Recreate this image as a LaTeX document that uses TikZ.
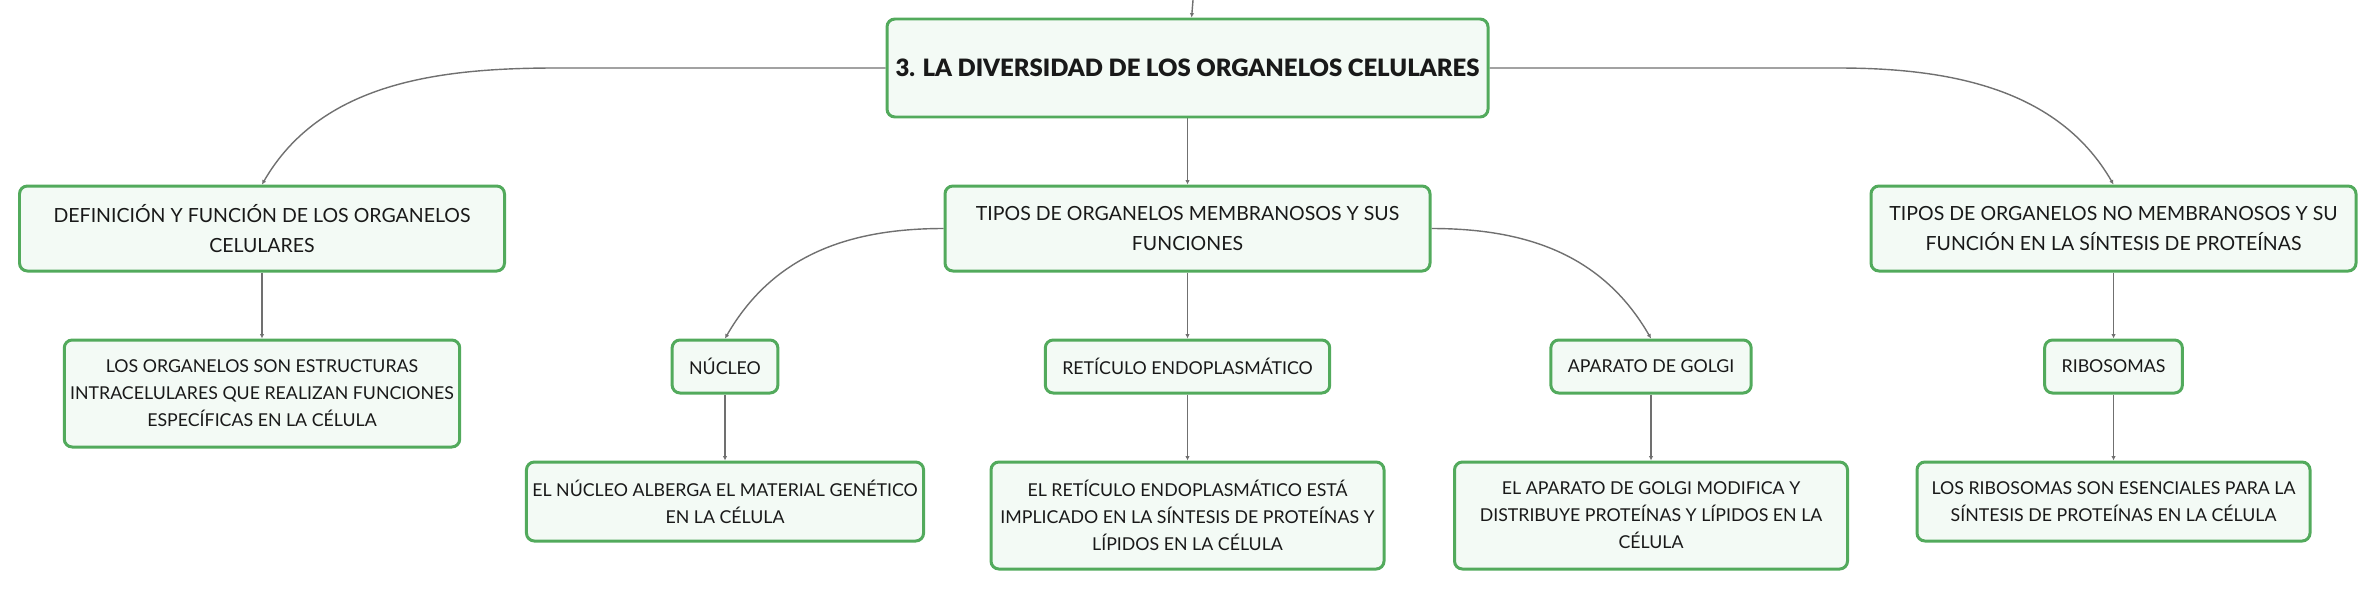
\documentclass[tikz,border=0pt]{standalone}
\usepackage{fontspec}
\setmainfont{Lato}
\newfontfamily\heavyfont{Lato Black}
\usetikzlibrary{arrows.meta}
\pgfdeclarelayer{edgelayer}
\pgfdeclarelayer{nodelayer}
\pgfsetlayers{edgelayer,nodelayer,main}
\definecolor{boxline}{RGB}{82,170,92}
\definecolor{boxfill}{RGB}{243,250,245}
\definecolor{linkgrey}{RGB}{112,112,112}
\definecolor{ink}{RGB}{25,25,25}
\tikzstyle{none}=[inner sep=0pt]
\tikzstyle{card}=[rectangle, rounded corners=4.5pt, draw=boxline, line width=1.7pt, fill=boxfill, text=ink, align=center]
\tikzstyle{root}=[card, font=\fontsize{13.6}{16.8}\selectfont\heavyfont, minimum width=12.02cm, minimum height=1.96cm]
\tikzstyle{topic}=[card, font=\fontsize{11.1}{16.8}\selectfont, minimum width=9.7cm, minimum height=1.7cm]
\tikzstyle{sub}=[card, font=\fontsize{10.1}{15.4}\selectfont, minimum height=1.06cm, inner xsep=0.34cm]
\tikzstyle{note}=[card, font=\fontsize{10.1}{15.4}\selectfont, minimum width=7.86cm, minimum height=1.58cm]
\tikzstyle{longnote}=[note, minimum height=2.14cm]
\tikzstyle{link}=[draw=linkgrey, line width=0.8pt, -{Latex[length=2.5pt,width=2.5pt]}]

\begin{document}
\begin{tikzpicture}
	\useasboundingbox (0,0) rectangle (47.52,-11.8);
	\begin{pgfonlayer}{nodelayer}
		\node [style=root] (0) at (23.75, -1.36) {3. LA DIVERSIDAD DE LOS ORGANELOS CELULARES};
		\node [style=topic] (1) at (5.24, -4.57) {DEFINICIÓN Y FUNCIÓN DE LOS ORGANELOS\\CELULARES};
		\node [style=topic] (2) at (23.75, -4.57) {TIPOS DE ORGANELOS MEMBRANOSOS Y SUS\\FUNCIONES};
		\node [style=topic] (3) at (42.27, -4.57) {TIPOS DE ORGANELOS NO MEMBRANOSOS Y SU\\FUNCIÓN EN LA SÍNTESIS DE PROTEÍNAS};
		\node [style=longnote] (4) at (5.24, -7.87) {LOS ORGANELOS SON ESTRUCTURAS\\INTRACELULARES QUE REALIZAN FUNCIONES\\ESPECÍFICAS EN LA CÉLULA};
		\node [style=sub] (5) at (14.5, -7.33) {NÚCLEO};
		\node [style=sub] (6) at (23.75, -7.33) {RETÍCULO ENDOPLASMÁTICO};
		\node [style=sub] (7) at (33.02, -7.33) {APARATO DE GOLGI};
		\node [style=sub] (8) at (42.27, -7.33) {RIBOSOMAS};
		\node [style=note] (9) at (14.5, -10.03) {EL NÚCLEO ALBERGA EL MATERIAL GENÉTICO\\EN LA CÉLULA};
		\node [style=longnote] (10) at (23.75, -10.31) {EL RETÍCULO ENDOPLASMÁTICO ESTÁ\\IMPLICADO EN LA SÍNTESIS DE PROTEÍNAS Y\\LÍPIDOS EN LA CÉLULA};
		\node [style=longnote] (11) at (33.02, -10.31) {EL APARATO DE GOLGI MODIFICA Y\\DISTRIBUYE PROTEÍNAS Y LÍPIDOS EN LA\\CÉLULA};
		\node [style=note] (12) at (42.27, -10.03) {LOS RIBOSOMAS SON ESENCIALES PARA LA\\SÍNTESIS DE PROTEÍNAS EN LA CÉLULA};
		\node [style=none] (13) at (23.86, 0) {};
		\node [style=none] (14) at (11.12, -1.36) {};
		\node [style=none] (15) at (36.76, -1.36) {};
	\end{pgfonlayer}
	\begin{pgfonlayer}{edgelayer}
		\draw [style=link] (13.center) to (0);
		\draw [style=link] (0.west) to (14.center) to [in=60, out=180, looseness=0.95] (1.north);
		\draw [style=link] (0.south) to (2.north);
		\draw [style=link] (0.east) to (15.center) to [in=120, out=0, looseness=0.95] (3.north);
		\draw [style=link] (1.south) to (4.north);
		\draw [style=link] [in=60, out=180, looseness=1.00] (2.west) to (5.north);
		\draw [style=link] (2.south) to (6.north);
		\draw [style=link] [in=120, out=0, looseness=1.00] (2.east) to (7.north);
		\draw [style=link] (3.south) to (8.north);
		\draw [style=link] (5.south) to (9.north);
		\draw [style=link] (6.south) to (10.north);
		\draw [style=link] (7.south) to (11.north);
		\draw [style=link] (8.south) to (12.north);
	\end{pgfonlayer}
\end{tikzpicture}
\end{document}
